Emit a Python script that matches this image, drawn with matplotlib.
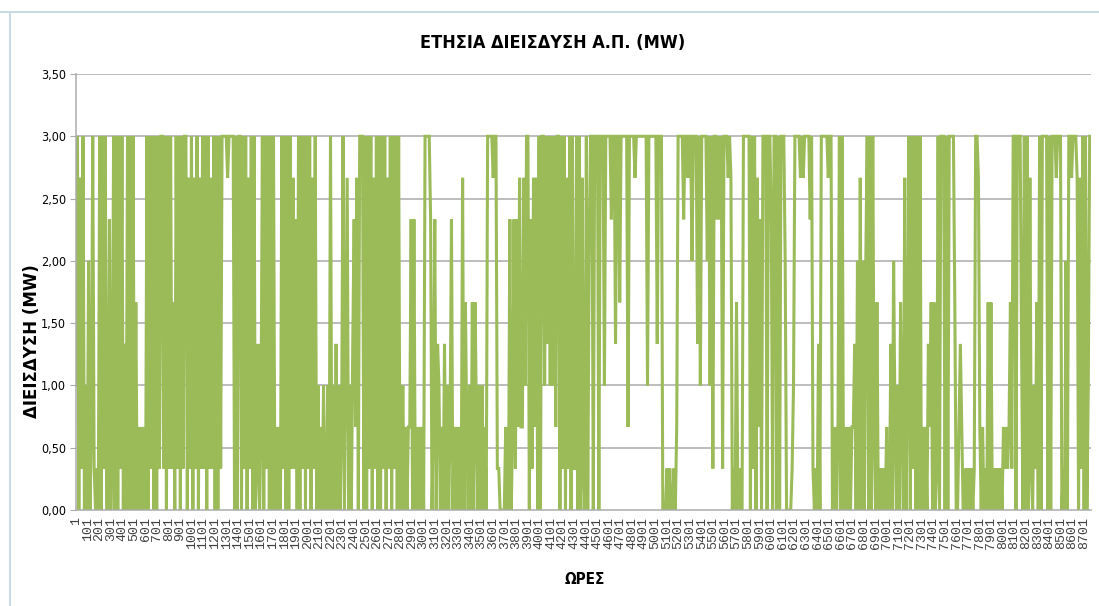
import matplotlib.pyplot as plt
from matplotlib.lines import Line2D

plt.rcParams['font.family'] = ['DejaVu Sans']

# renewable penetration, one sample every 12 h; each digit d stands for d/3 MW
jan = "3908190 30602 91 010 909190 0702 9090919 0409 0909 050202020 909190909 19"
feb = "9190919 15 09190919 908190819081 91909181909091 999989999 0909"
mar = "909190819090 1402 909190909 02020 9190909181 70 9091909190819 0302030"
apr = "030 9 03040302 9 04 8 0304 7 28099 9090919081909091908190919090 030202"
may = "2 7070 202020 999970 2704 302040302 7 0202020 8 05 2030 505 2030302 0999989"
jun = "91 1000020 070 2717282 283990 718280909 93949393929 909190819091 190"
jul = "908 1090 69 909 9909 99399 9979 94995 99 999299 9989 999999 9399 999949 9900"
aug = "010100102 999979 9899699 9493 999969 3919 97979 19 99898 01050100 999990"
sep = "9190 82 70999 099709 9090 99960 000139 999898999979 10 1040999 9989900"
oct = "202 9090 020 202 2406 0806 06 90909 2050 0101020 0406 20305 20803 909190909"
nov = "0202 04 25050 190999 090999950 02420 0101010 1998 20201 05050 01010102"
dec = "12125 19909 9940 9090 81 03150 9099 9909 0999 8999 01060 998999 808190 9039"

month_codes = [jan, feb, mar, apr, may, jun, jul, aug, sep, oct, nov, dec]
month_hours = [744, 672, 744, 720, 744, 720, 744, 744, 720, 744, 720, 744]
step = 12

hours, penetration = [], []
start = 0
for codes, n in zip(month_codes, month_hours):
    codes = "".join(codes.split())
    assert len(codes) == n // step, (len(codes), n // step)
    hours += [start + 1 + step * k for k in range(len(codes))]
    penetration += [int(c) / 3 for c in codes]
    start += n

tick_hours = list(range(1, 8761, 100))
y_ticks = [0, 0.5, 1.0, 1.5, 2.0, 2.5, 3.0, 3.5]

W, H = 1099, 606
fig = plt.figure(figsize=(W / 100, H / 100), dpi=100)
ax = fig.add_axes([76 / W, 1 - 510 / H, (1091 - 76) / W, (510 - 74) / H])

grid_c = '#ABABAB'
for y in y_ticks[1:]:
    ax.axhline(y, color=grid_c, lw=1.1, zorder=0)

ax.plot(hours, penetration, color='#9BBB59', lw=2.2, solid_joinstyle='miter', zorder=2)

ax.set_xlim(0.5, 8760.5)
ax.set_ylim(0, 3.5)
ax.set_yticks(y_ticks)
ax.set_yticklabels([f"{v:.2f}".replace('.', ',') for v in y_ticks], fontsize=9,
                   fontstretch='condensed')
ax.set_xticks(tick_hours)
ax.set_xticklabels([str(h) for h in tick_hours], rotation=90, fontsize=9.5,
                   family='Liberation Mono', color='#404040', va='top')
ax.tick_params(axis='x', length=0, pad=5)
ax.tick_params(axis='y', length=4, color=grid_c, pad=3)

for s in ('top', 'right'):
    ax.spines[s].set_visible(False)
for s in ('left', 'bottom'):
    ax.spines[s].set_color(grid_c)
    ax.spines[s].set_linewidth(1.1)

fig.text(0.503, 1 - 43 / H, "ΕΤΗΣΙΑ ΔΙΕΙΣΔΥΣΗ Α.Π. (MW)", ha='center', va='center',
         fontsize=13, fontweight='bold', fontstretch='condensed')
fig.text(32 / W, 1 - 341 / H, "ΔΙΕΙΣΔΥΣΗ (MW)", rotation=90, ha='center', va='center',
         fontsize=12, fontweight='bold')
fig.text(585 / W, 1 - 579 / H, "ΩΡΕΣ", ha='center', va='center',
         fontsize=11, fontweight='bold', fontstretch='condensed')

# sheet frame around the chart object
frame_c = '#C9DCE6'
fig.add_artist(Line2D([0, 1], [1 - 12 / H, 1 - 12 / H], color=frame_c, lw=1.5))
fig.add_artist(Line2D([10 / W, 10 / W], [0, 1 - 12 / H], color=frame_c, lw=1.5))

fig.savefig('out.png', dpi=100)
